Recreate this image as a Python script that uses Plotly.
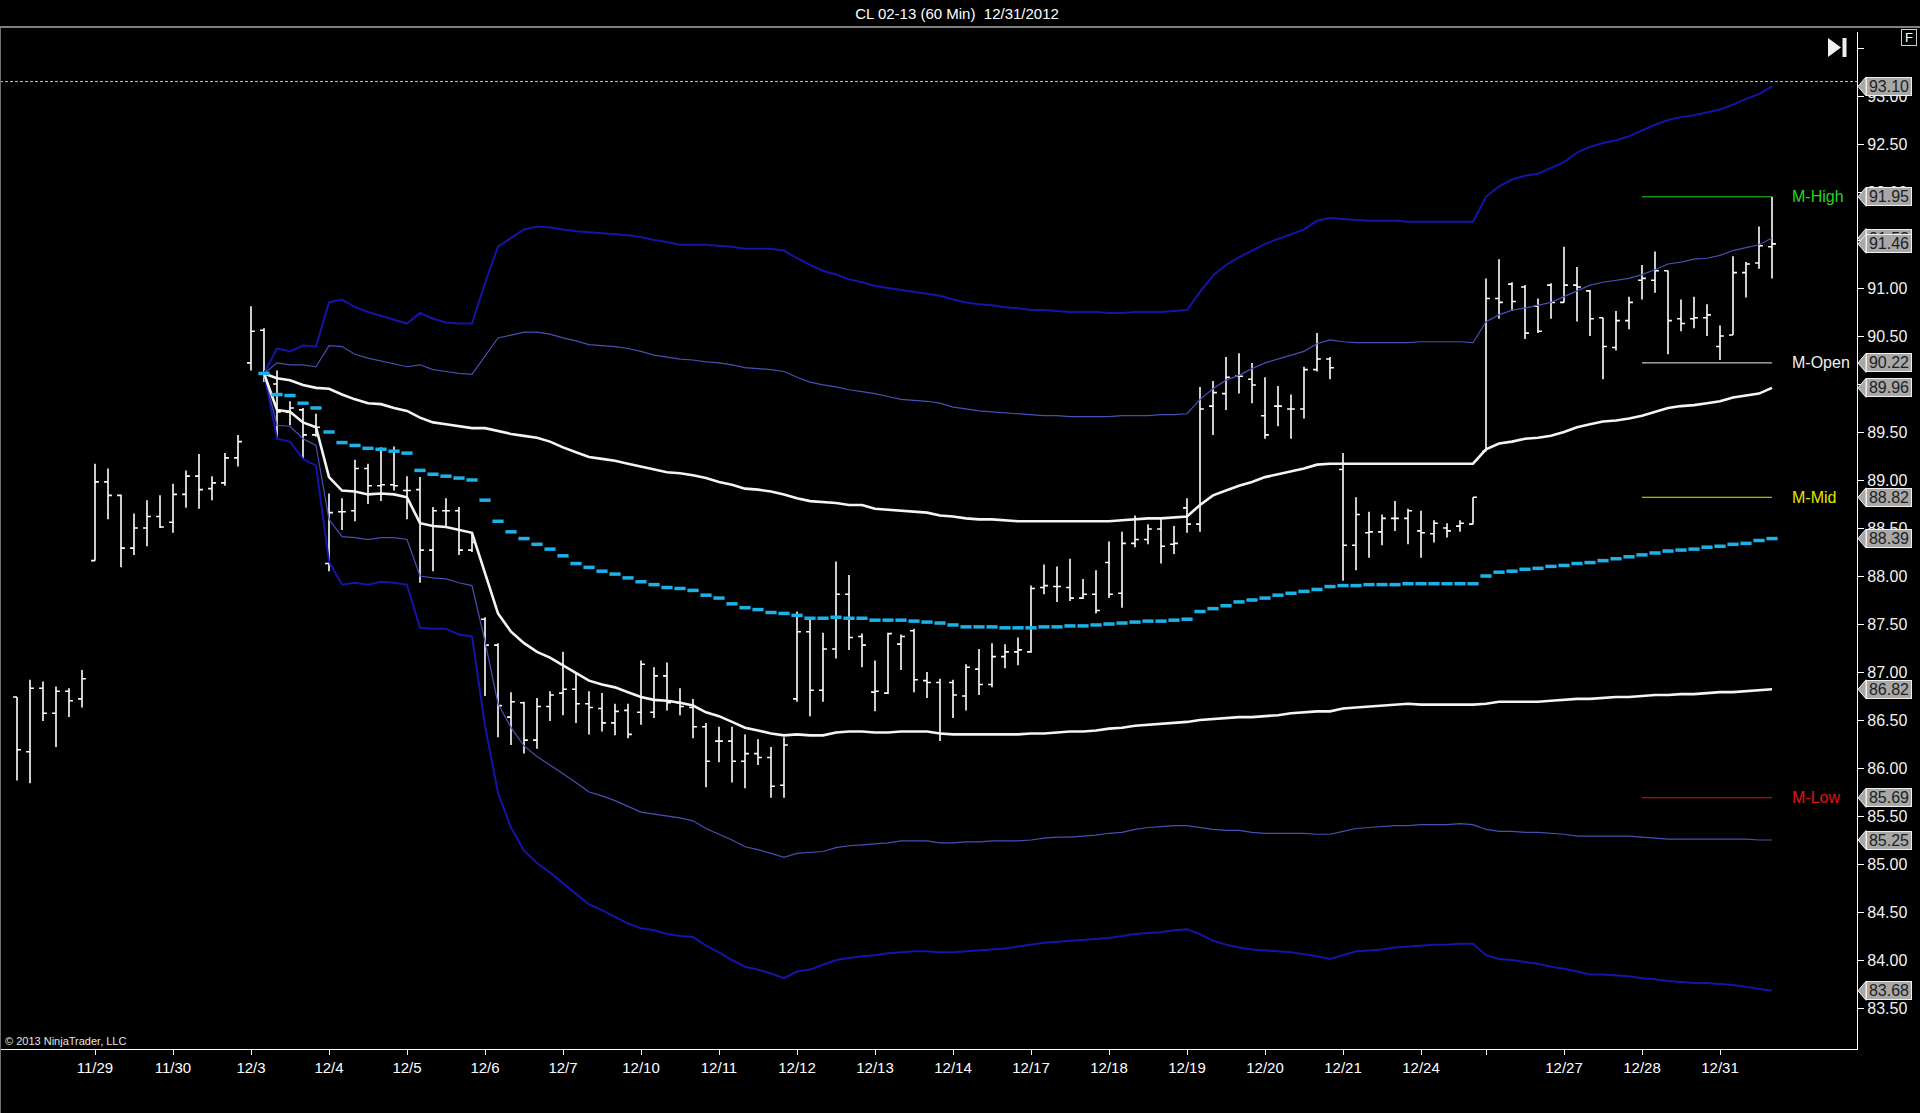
import plotly.graph_objects as go

# CL 02-13, 60 min bars, day session (6 bars a day, 5 on 12/24 and 12/31)
# bars are numbered 0..135 from the first bar of 11/28
bar_open = [
    86.74, 86.17, 86.83, 86.57, 86.80, 86.72,   # 11/28
    88.16, 88.98, 88.84, 88.29, 88.50, 88.62,   # 11/29
    88.56, 88.85, 89.04, 88.91, 88.97, 89.23,   # 11/30
    90.22, 90.56, 90.00, 89.71, 89.73, 89.47,   # 12/3
    88.13, 88.67, 88.68, 89.12, 88.94, 88.95,   # 12/4
    88.89, 88.90, 88.27, 88.68, 88.68, 88.27,   # 12/5
    87.55, 87.28, 86.53, 86.68, 86.29, 86.64,   # 12/6
    86.78, 86.82, 86.67, 86.62, 86.47, 86.60,   # 12/7
    86.58, 86.58, 86.96, 86.68, 86.63, 86.43,   # 12/10
    86.28, 86.28, 86.07, 86.15, 86.11, 85.82,   # 12/11
    86.72, 87.42, 86.81, 87.24, 87.81, 87.37,   # 12/12
    86.79, 86.78, 87.29, 87.43, 86.91, 86.89,   # 12/13
    86.89, 86.75, 87.03, 86.87, 87.16, 87.21,   # 12/14
    87.21, 87.88, 87.89, 87.88, 87.77, 87.81,   # 12/17
    88.14, 87.82, 88.34, 88.38, 88.49, 88.33,   # 12/18
    88.71, 88.54, 89.77, 89.90, 90.08, 90.05,   # 12/19
    89.67, 89.77, 89.74, 89.74, 90.15, 90.26,   # 12/20
    89.11, 88.32, 88.45, 88.46, 88.60, 88.60,   # 12/21
    88.47, 88.44, 88.50, 88.52, 88.54,          # 12/24
    89.30, 90.89, 91.04, 91.01, 90.81, 91.03,   # 12/26
    90.85, 91.03, 90.97, 90.69, 90.38, 90.66,   # 12/27
    91.08, 91.08, 91.18, 90.68, 90.68, 90.69,   # 12/28
    90.39, 90.51, 91.16, 91.26, 91.43,          # 12/31
]
bar_high = [
    86.74, 86.92, 86.90, 86.85, 86.83, 87.02,
    89.17, 89.12, 88.85, 88.65, 88.79, 88.84,
    88.96, 89.10, 89.27, 89.04, 89.28, 89.47,
    90.81, 90.58, 90.14, 89.82, 89.75, 89.69,
    88.86, 88.81, 89.21, 89.17, 89.34, 89.35,
    89.04, 89.03, 88.72, 88.81, 88.72, 88.44,
    87.57, 87.30, 86.79, 86.69, 86.73, 86.80,
    87.21, 86.98, 86.80, 86.78, 86.67, 86.67,
    87.12, 87.05, 87.10, 86.83, 86.72, 86.47,
    86.43, 86.43, 86.35, 86.30, 86.22, 86.32,
    87.63, 87.55, 87.41, 88.15, 88.01, 87.40,
    87.12, 87.41, 87.39, 87.45, 87.00, 86.93,
    86.92, 87.08, 87.24, 87.30, 87.29, 87.36,
    87.90, 88.12, 88.10, 88.18, 87.97, 88.06,
    88.36, 88.46, 88.63, 88.54, 88.60, 88.52,
    88.81, 89.97, 90.03, 90.28, 90.32, 90.22,
    90.07, 89.98, 89.89, 90.18, 90.53, 90.28,
    89.28, 88.82, 88.67, 88.64, 88.78, 88.70,
    88.68, 88.58, 88.55, 88.58, 88.82,
    91.10, 91.30, 91.06, 91.03, 90.89, 91.05,
    91.43, 91.22, 90.98, 90.69, 90.76, 90.91,
    91.24, 91.38, 91.18, 90.88, 90.91, 90.83,
    90.61, 91.33, 91.27, 91.64, 91.95,
]
bar_low = [
    85.87, 85.84, 86.49, 86.22, 86.53, 86.63,
    88.16, 88.59, 88.09, 88.22, 88.31, 88.50,
    88.45, 88.71, 88.70, 88.79, 88.94, 89.14,
    90.14, 90.02, 89.43, 89.57, 89.22, 89.45,
    88.05, 88.48, 88.57, 88.75, 88.78, 88.89,
    88.59, 87.93, 88.05, 88.51, 88.22, 88.25,
    86.75, 86.32, 86.24, 86.15, 86.20, 86.49,
    86.55, 86.47, 86.35, 86.38, 86.34, 86.31,
    86.45, 86.52, 86.60, 86.55, 86.31, 85.80,
    86.06, 85.85, 85.79, 86.03, 85.69, 85.69,
    86.69, 86.54, 86.69, 87.14, 87.23, 87.05,
    86.59, 86.77, 87.02, 86.79, 86.73, 86.28,
    86.52, 86.60, 86.76, 86.84, 87.04, 87.07,
    87.20, 87.81, 87.73, 87.74, 87.76, 87.61,
    87.77, 87.67, 88.30, 88.33, 88.13, 88.23,
    88.45, 88.46, 89.47, 89.73, 89.90, 89.80,
    89.43, 89.56, 89.43, 89.64, 90.13, 90.05,
    87.95, 88.06, 88.19, 88.32, 88.47, 88.33,
    88.19, 88.35, 88.40, 88.46, 88.54,
    89.30, 90.68, 90.76, 90.47, 90.53, 90.68,
    90.85, 90.65, 90.50, 90.05, 90.35, 90.57,
    90.88, 90.95, 90.31, 90.55, 90.58, 90.50,
    90.25, 90.51, 90.90, 91.20, 91.10,
]
bar_close = [
    86.19, 86.83, 86.57, 86.80, 86.70, 86.93,
    88.98, 88.84, 88.29, 88.50, 88.62, 88.51,
    88.85, 89.04, 88.90, 88.97, 89.23, 89.40,
    90.55, 90.11, 89.71, 89.75, 89.47, 89.55,
    88.66, 88.67, 89.12, 88.94, 88.95, 88.94,
    88.89, 88.27, 88.68, 88.68, 88.27, 88.35,
    87.28, 86.65, 86.69, 86.29, 86.64, 86.76,
    86.82, 86.67, 86.63, 86.47, 86.59, 86.35,
    87.08, 86.96, 86.68, 86.64, 86.43, 86.07,
    86.28, 86.07, 86.15, 86.11, 85.81, 86.24,
    87.42, 86.81, 87.24, 87.81, 87.36, 87.28,
    86.80, 87.40, 87.37, 86.92, 86.89, 86.36,
    86.76, 87.05, 86.87, 87.16, 87.21, 87.23,
    87.87, 87.90, 87.89, 87.77, 87.81, 87.64,
    87.81, 88.34, 88.38, 88.49, 88.31, 88.34,
    88.54, 89.74, 89.91, 90.07, 90.08, 89.99,
    89.47, 89.77, 89.74, 90.15, 90.26, 90.17,
    88.32, 88.64, 88.46, 88.60, 88.60, 88.68,
    88.45, 88.55, 88.47, 88.55, 88.82,
    90.89, 90.85, 90.86, 90.53, 90.55, 90.85,
    91.03, 91.01, 90.68, 90.39, 90.66, 90.85,
    91.10, 91.18, 90.66, 90.63, 90.69, 90.72,
    90.50, 91.16, 91.25, 91.44, 91.46,
]

# monthly vwap and its deviation bands, starting at bar 19 (12/3)
band_start = 19
vwap = [
    90.11, 89.89, 89.88, 89.80, 89.75,
    89.50, 89.39, 89.36, 89.33, 89.32, 89.30,
    89.28, 89.10, 89.06, 89.04, 89.02, 89.00,
    88.79, 88.57, 88.46, 88.39, 88.33, 88.28,
    88.21, 88.13, 88.09, 88.05, 88.02, 87.98,
    87.94, 87.91, 87.88, 87.87, 87.85, 87.80,
    87.77, 87.71, 87.67, 87.65, 87.62, 87.61,
    87.59, 87.56, 87.56, 87.57, 87.56, 87.56,
    87.54, 87.54, 87.54, 87.53, 87.52, 87.51,
    87.49, 87.47, 87.47, 87.47, 87.46, 87.46,
    87.46, 87.47, 87.47, 87.48, 87.48, 87.49,
    87.50, 87.51, 87.52, 87.53, 87.53, 87.54,
    87.55, 87.63, 87.66, 87.69, 87.73, 87.75,
    87.77, 87.80, 87.82, 87.84, 87.86, 87.89,
    87.90, 87.90, 87.91, 87.91, 87.91, 87.92,
    87.92, 87.92, 87.92, 87.92, 87.92,
    88.00, 88.04, 88.05, 88.07, 88.08, 88.10,
    88.11, 88.13, 88.14, 88.16, 88.18, 88.20,
    88.22, 88.24, 88.26, 88.27, 88.28, 88.30,
    88.31, 88.33, 88.34, 88.37, 88.39,
]
sd1_up = [
    90.11, 90.06, 90.04, 89.99, 89.96,
    89.95, 89.89, 89.84, 89.80, 89.79, 89.75,
    89.72, 89.65, 89.60, 89.58, 89.56, 89.54,
    89.54, 89.51, 89.48, 89.46, 89.44, 89.40,
    89.34, 89.29, 89.24, 89.22, 89.20, 89.17,
    89.14, 89.11, 89.08, 89.07, 89.05, 89.02,
    88.98, 88.95, 88.91, 88.90, 88.88, 88.85,
    88.81, 88.78, 88.77, 88.76, 88.74, 88.74,
    88.70, 88.69, 88.68, 88.67, 88.66, 88.63,
    88.62, 88.60, 88.59, 88.59, 88.58, 88.57,
    88.57, 88.57, 88.57, 88.57, 88.57, 88.57,
    88.57, 88.58, 88.59, 88.60, 88.60, 88.61,
    88.62, 88.74, 88.84, 88.89, 88.94, 88.98,
    89.03, 89.06, 89.09, 89.12, 89.16, 89.17,
    89.17, 89.17, 89.17, 89.17, 89.17, 89.17,
    89.17, 89.17, 89.17, 89.17, 89.17,
    89.32, 89.38, 89.40, 89.43, 89.44, 89.46,
    89.50, 89.55, 89.58, 89.61, 89.62, 89.64,
    89.67, 89.71, 89.75, 89.77, 89.78, 89.80,
    89.82, 89.86, 89.88, 89.90, 89.96,
]
sd1_dn = [
    90.11, 89.73, 89.71, 89.60, 89.55,
    89.03, 88.89, 88.88, 88.85, 88.86, 88.85,
    88.82, 88.55, 88.52, 88.51, 88.48, 88.45,
    88.03, 87.61, 87.42, 87.30, 87.21, 87.15,
    87.07, 86.99, 86.91, 86.87, 86.84, 86.79,
    86.74, 86.71, 86.70, 86.68, 86.65, 86.58,
    86.54, 86.48, 86.42, 86.39, 86.36, 86.34,
    86.35, 86.34, 86.34, 86.37, 86.38, 86.38,
    86.37, 86.37, 86.38, 86.38, 86.38, 86.36,
    86.35, 86.35, 86.35, 86.35, 86.35, 86.35,
    86.36, 86.36, 86.37, 86.38, 86.38, 86.39,
    86.41, 86.42, 86.44, 86.45, 86.46, 86.47,
    86.48, 86.50, 86.51, 86.52, 86.53, 86.53,
    86.54, 86.55, 86.57, 86.58, 86.59, 86.59,
    86.62, 86.63, 86.64, 86.65, 86.66, 86.67,
    86.66, 86.66, 86.66, 86.66, 86.66,
    86.67, 86.69, 86.69, 86.69, 86.69, 86.70,
    86.71, 86.72, 86.72, 86.73, 86.74, 86.74,
    86.75, 86.76, 86.76, 86.77, 86.77, 86.78,
    86.79, 86.79, 86.80, 86.81, 86.82,
]
sd2_up = [
    90.11, 90.22, 90.20, 90.20, 90.18,
    90.40, 90.39, 90.31, 90.27, 90.24, 90.21,
    90.18, 90.20, 90.15, 90.13, 90.11, 90.10,
    90.29, 90.48, 90.51, 90.54, 90.54, 90.52,
    90.48, 90.45, 90.41, 90.40, 90.39, 90.37,
    90.34, 90.30, 90.28, 90.26, 90.25, 90.23,
    90.22, 90.20, 90.17, 90.16, 90.15, 90.13,
    90.07, 90.02, 89.99, 89.97, 89.94, 89.92,
    89.90, 89.87, 89.84, 89.83, 89.82, 89.80,
    89.76, 89.74, 89.72, 89.71, 89.70, 89.69,
    89.68, 89.67, 89.67, 89.66, 89.66, 89.66,
    89.66, 89.67, 89.67, 89.67, 89.68, 89.68,
    89.69, 89.84, 89.95, 90.04, 90.09, 90.16,
    90.22, 90.26, 90.30, 90.34, 90.42, 90.46,
    90.44, 90.43, 90.43, 90.43, 90.43, 90.43,
    90.44, 90.44, 90.44, 90.44, 90.43,
    90.65, 90.72, 90.77, 90.79, 90.82, 90.85,
    90.91, 90.97, 91.03, 91.06, 91.08, 91.10,
    91.14, 91.19, 91.25, 91.27, 91.30, 91.31,
    91.34, 91.39, 91.42, 91.45, 91.52,
]
sd2_dn = [
    90.11, 89.57, 89.56, 89.43, 89.36,
    88.59, 88.41, 88.40, 88.38, 88.40, 88.40,
    88.38, 88.00, 87.98, 87.97, 87.93, 87.90,
    87.32, 86.67, 86.42, 86.23, 86.12, 86.03,
    85.94, 85.85, 85.75, 85.71, 85.66, 85.60,
    85.54, 85.52, 85.50, 85.48, 85.45, 85.37,
    85.31, 85.25, 85.18, 85.15, 85.11, 85.07,
    85.11, 85.12, 85.13, 85.17, 85.19, 85.20,
    85.21, 85.22, 85.24, 85.24, 85.24, 85.22,
    85.22, 85.23, 85.23, 85.24, 85.24, 85.24,
    85.25, 85.27, 85.28, 85.28, 85.29, 85.30,
    85.32, 85.33, 85.36, 85.38, 85.39, 85.40,
    85.40, 85.38, 85.36, 85.35, 85.35, 85.33,
    85.32, 85.32, 85.32, 85.32, 85.31, 85.31,
    85.34, 85.37, 85.38, 85.39, 85.40, 85.40,
    85.41, 85.41, 85.41, 85.42, 85.41,
    85.36, 85.34, 85.34, 85.33, 85.33, 85.32,
    85.31, 85.29, 85.29, 85.29, 85.29, 85.29,
    85.28, 85.27, 85.26, 85.26, 85.26, 85.26,
    85.26, 85.26, 85.26, 85.25, 85.25,
]
sd3_up = [
    90.11, 90.37, 90.34, 90.40, 90.39,
    90.85, 90.88, 90.80, 90.75, 90.71, 90.67,
    90.63, 90.74, 90.68, 90.64, 90.63, 90.63,
    91.05, 91.43, 91.52, 91.61, 91.64, 91.63,
    91.61, 91.59, 91.58, 91.57, 91.56, 91.55,
    91.53, 91.50, 91.48, 91.45, 91.45, 91.45,
    91.44, 91.43, 91.41, 91.41, 91.41, 91.39,
    91.31, 91.24, 91.18, 91.14, 91.09, 91.06,
    91.02, 91.00, 90.98, 90.96, 90.94, 90.92,
    90.88, 90.85, 90.83, 90.82, 90.80, 90.79,
    90.77, 90.77, 90.76, 90.75, 90.75, 90.75,
    90.74, 90.74, 90.75, 90.75, 90.75, 90.76,
    90.77, 90.96, 91.13, 91.24, 91.32, 91.39,
    91.46, 91.51, 91.56, 91.61, 91.70, 91.73,
    91.72, 91.71, 91.70, 91.70, 91.70, 91.69,
    91.69, 91.69, 91.69, 91.69, 91.69,
    91.95, 92.06, 92.13, 92.17, 92.19, 92.25,
    92.31, 92.41, 92.47, 92.51, 92.54, 92.58,
    92.64, 92.70, 92.75, 92.78, 92.80, 92.83,
    92.86, 92.91, 92.97, 93.02, 93.10,
]
sd3_dn = [
    90.11, 89.43, 89.40, 89.22, 89.15,
    88.15, 87.91, 87.93, 87.91, 87.94, 87.93,
    87.91, 87.46, 87.45, 87.45, 87.39, 87.37,
    86.44, 85.74, 85.38, 85.14, 85.01, 84.91,
    84.80, 84.68, 84.58, 84.52, 84.45, 84.38,
    84.33, 84.31, 84.27, 84.25, 84.24, 84.15,
    84.08, 84.00, 83.93, 83.90, 83.86, 83.81,
    83.88, 83.90, 83.95, 84.00, 84.02, 84.04,
    84.05, 84.07, 84.08, 84.09, 84.09, 84.08,
    84.08, 84.09, 84.10, 84.11, 84.12, 84.14,
    84.16, 84.18, 84.19, 84.20, 84.21, 84.22,
    84.23, 84.25, 84.27, 84.28, 84.29, 84.31,
    84.32, 84.27, 84.20, 84.16, 84.13, 84.11,
    84.10, 84.09, 84.08, 84.06, 84.04, 84.01,
    84.05, 84.09, 84.10, 84.11, 84.13, 84.14,
    84.15, 84.16, 84.16, 84.17, 84.17,
    84.05, 84.01, 84.00, 83.98, 83.96, 83.93,
    83.91, 83.88, 83.85, 83.85, 83.84, 83.83,
    83.81, 83.80, 83.78, 83.77, 83.76, 83.76,
    83.75, 83.74, 83.72, 83.70, 83.68,
]

# monthly levels drawn over the last session days
m_names = ["M-High", "M-Open", "M-Mid", "M-Low"]
m_levels = [91.95, 90.22, 88.82, 85.69]
m_colors = ["#22d622", "#f0f0f0", "#e6e600", "#e01414"]
m_from_bar = 125
m_to_bar = 135
top_dotted_level = 93.15

# date axis: first bar of each session
day_first_bar = [6, 12, 18, 24, 30, 36, 42, 48, 54, 60, 66, 72, 78, 84, 90,
                 96, 102, 108, 113, 119, 125, 131]
day_labels = ["11/29", "11/30", "12/3", "12/4", "12/5", "12/6", "12/7",
              "12/10", "12/11", "12/12", "12/13", "12/14", "12/17", "12/18",
              "12/19", "12/20", "12/21", "12/24", "", "12/27", "12/28", "12/31"]
price_ticks = [83.5, 84.0, 84.5, 85.0, 85.5, 86.0, 86.5, 87.0, 87.5, 88.0,
               88.5, 89.0, 89.5, 90.0, 90.5, 91.0, 91.5, 92.0, 92.5, 93.0, 93.5]
price_tick_text = ["83.50", "84.00", "84.50", "85.00", "85.50", "86.00",
                   "86.50", "87.00", "87.50", "88.00", "88.50", "89.00",
                   "89.50", "90.00", "90.50", "91.00", "91.50", "92.00",
                   "92.50", "93.00", ""]

FONT = "Liberation Sans, Arial, sans-serif"
W, H = 1920, 1113
M_L, M_R, M_T, M_B = 0, 63, 32, 64
PW = W - M_L - M_R
PH = H - M_T - M_B


def px_x(px):
    return (px - M_L) / PW


def px_y(py):
    return (H - M_B - py) / PH


bars = list(range(len(bar_close)))

fig = go.Figure()

fig.add_trace(go.Ohlc(
    x=bars, open=bar_open, high=bar_high, low=bar_low, close=bar_close,
    increasing=dict(line=dict(color="#ffffff", width=1.6)),
    decreasing=dict(line=dict(color="#ffffff", width=1.6)),
    tickwidth=0.3, hoverinfo="skip", showlegend=False,
))


def band_x(values):
    return list(range(band_start, band_start + len(values)))


outer_blue = "#1414a8"
inner_blue = "#4650b4"
for arr, col, w in [(sd3_up, outer_blue, 2.0), (sd3_dn, outer_blue, 2.0),
                    (sd2_up, inner_blue, 1.2), (sd2_dn, inner_blue, 1.2),
                    (sd1_up, "#f4f4f4", 2.6), (sd1_dn, "#f4f4f4", 2.6)]:
    fig.add_trace(go.Scatter(
        x=band_x(arr), y=arr, mode="lines",
        line=dict(color=col, width=w), hoverinfo="skip", showlegend=False,
    ))

# vwap drawn as one short dash per bar
fig.add_trace(go.Scatter(
    x=band_x(vwap), y=vwap, mode="markers",
    marker=dict(symbol="line-ew", size=8,
                line=dict(color="#1cb2e8", width=3.5)),
    hoverinfo="skip", showlegend=False,
))

shapes = []
annotations = []

# dotted line near the top
shapes.append(dict(type="line", xref="paper", yref="y", x0=0, x1=1,
                   y0=top_dotted_level, y1=top_dotted_level,
                   line=dict(color="#c8c8c8", width=1, dash="3px,2px")))

for name, lvl, col in zip(m_names, m_levels, m_colors):
    shapes.append(dict(type="line", xref="x", yref="y", x0=m_from_bar,
                       x1=m_to_bar, y0=lvl, y1=lvl,
                       line=dict(color=col, width=1)))
    annotations.append(dict(text=name, xref="paper", yref="y",
                            x=px_x(1790), y=lvl, xanchor="left",
                            yanchor="middle", showarrow=False,
                            font=dict(family=FONT, size=16, color=col)))

# price markers on the right axis (drawn in this order, later on top)
marker_values = [sd3_up[-1], m_levels[0], sd2_up[-1], bar_close[-1],
                 m_levels[1], sd1_up[-1], m_levels[2], vwap[-1], sd1_dn[-1],
                 m_levels[3], sd2_dn[-1], sd3_dn[-1]]
half = 9.5 / 96.0
x_tip, x_body = px_x(1858), px_x(1866)
for v in marker_values:
    shapes.append(dict(type="path", xref="paper", yref="y", layer="above",
                       path=f"M {x_tip},{v} L {x_body},{v + half} "
                            f"L {x_body},{v - half} Z",
                       fillcolor="#a8a8a8", line=dict(color="#eeeeee", width=1)))
    annotations.append(dict(text=f"{v:.2f}", xref="paper", yref="y",
                            x=x_body, y=v, xanchor="left", yanchor="middle",
                            showarrow=False, width=44, height=17,
                            bgcolor="#a8a8a8", bordercolor="#eeeeee",
                            borderwidth=1, borderpad=0,
                            font=dict(family=FONT, size=16, color="#1e1e1e")))

# frame line under the title bar and left edge
shapes.append(dict(type="line", xref="paper", yref="paper", x0=0,
                   x1=px_x(W), y0=px_y(27), y1=px_y(27),
                   line=dict(color="#ffffff", width=1.2)))
shapes.append(dict(type="line", xref="paper", yref="paper", x0=px_x(0.5),
                   x1=px_x(0.5), y0=px_y(H), y1=px_y(27),
                   line=dict(color="#6e6e6e", width=1)))

# "go to last bar" icon
shapes.append(dict(type="path", xref="paper", yref="paper",
                   path=f"M {px_x(1828)},{px_y(38)} L {px_x(1828)},{px_y(57)} "
                        f"L {px_x(1841)},{px_y(47.5)} Z",
                   fillcolor="#f0f0f0", line=dict(width=0)))
shapes.append(dict(type="rect", xref="paper", yref="paper",
                   x0=px_x(1842.5), x1=px_x(1846.5), y0=px_y(57), y1=px_y(38),
                   fillcolor="#f0f0f0", line=dict(width=0)))

annotations.append(dict(text="F", xref="paper", yref="paper",
                        x=px_x(1909), y=px_y(38), xanchor="center",
                        yanchor="middle", showarrow=False, width=14,
                        height=15, bgcolor="#000000", bordercolor="#d0d0d0",
                        borderwidth=1, borderpad=0,
                        font=dict(family=FONT, size=13, color="#ffffff")))
annotations.append(dict(text="\u00a9 2013 NinjaTrader, LLC", xref="paper",
                        yref="paper", x=px_x(3), y=px_y(1049),
                        xanchor="left", yanchor="bottom", showarrow=False,
                        font=dict(family=FONT, size=11, color="#e6e6e6")))

fig.update_layout(
    width=W, height=H, autosize=False,
    margin=dict(l=M_L, r=M_R, t=M_T, b=M_B, pad=0),
    paper_bgcolor="#000000", plot_bgcolor="#000000",
    hovermode=False, showlegend=False,
    title=dict(text="CL 02-13 (60 Min)\u00a0 12/31/2012", x=957 / W,
               xanchor="center", y=1 - 14 / H, yanchor="middle",
               font=dict(family=FONT, size=15, color="#ffffff")),
    xaxis=dict(range=[(0 - 17) / 13, (PW - 17) / 13],
               tickvals=day_first_bar, ticktext=day_labels,
               ticks="outside", ticklen=5, tickcolor="#ffffff",
               showline=True, linecolor="#ffffff", linewidth=1.2,
               showgrid=False, zeroline=False, rangeslider=dict(visible=False),
               tickfont=dict(family=FONT, size=15, color="#ffffff")),
    yaxis=dict(range=[89 - (1049 - 480) / 96, 89 + (480 - 32) / 96],
               side="right", tickvals=price_ticks, ticktext=price_tick_text,
               ticks="outside", ticklen=6, tickcolor="#ffffff",
               showline=True, linecolor="#ffffff", linewidth=1.2,
               showgrid=False, zeroline=False,
               tickfont=dict(family=FONT, size=16, color="#f0f0f0")),
    shapes=shapes, annotations=annotations,
)

fig.write_html("out.html", config={"displayModeBar": False},
               post_script="document.body.style.margin='0';")
